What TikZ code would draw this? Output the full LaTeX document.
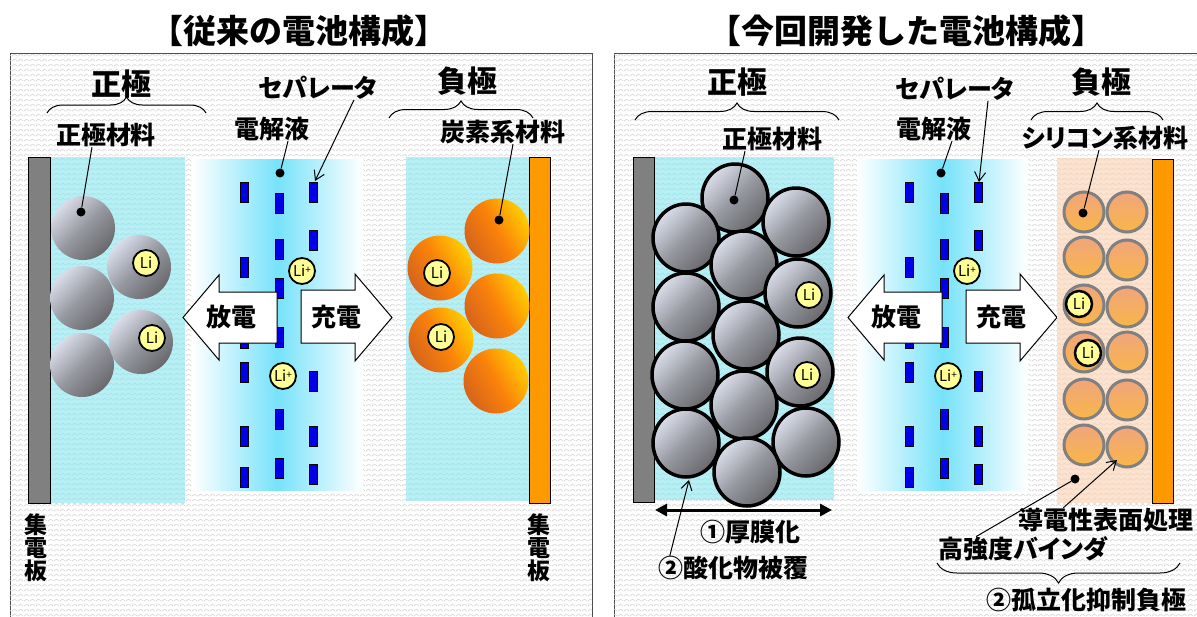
\documentclass[tikz,border=0pt]{standalone}
\usepackage{fontspec}
\setmainfont{Noto Sans CJK JP}[RawFeature=+palt]
\newfontfamily\jpwide{Noto Sans CJK JP}
\usetikzlibrary{calc,arrows.meta,patterns.meta,decorations.pathreplacing}

\definecolor{panelzz}{RGB}{208,208,208}
\definecolor{poscyan}{RGB}{184,239,244}
\definecolor{poszz}{RGB}{158,224,233}
\definecolor{elyte}{RGB}{118,226,250}
\definecolor{ionblue}{RGB}{0,0,230}
\definecolor{lifill}{RGB}{255,255,150}
\definecolor{cuorange}{RGB}{255,153,0}
\definecolor{peach}{RGB}{251,227,207}
\definecolor{peachzz}{RGB}{240,210,188}
\definecolor{gtop}{RGB}{218,222,234}
\definecolor{gmid}{RGB}{150,152,160}
\definecolor{gbot}{RGB}{105,105,108}
\definecolor{odark}{RGB}{214,100,28}
\definecolor{omid}{RGB}{250,130,10}
\definecolor{olite}{RGB}{255,205,0}
\definecolor{sitop}{RGB}{240,165,125}
\definecolor{sibot}{RGB}{249,182,72}

\tikzdeclarepattern{
  name=zigzag,
  bottom left={(0pt,0pt)},
  top right={(6pt,5pt)},
  tile size={(6pt,5pt)},
  code={\draw[line width=0.6pt] (0pt,1pt) -- (3pt,3.5pt) -- (6pt,1pt);}
}

\tikzset{
  hd/.style={font=\jpwide\fontsize{33}{33}\selectfont\bfseries, inner sep=0pt},
  pole/.style={font=\fontsize{30}{30}\selectfont\bfseries, inner sep=0pt},
  lbl/.style={font=\fontsize{25}{25}\selectfont\bfseries, inner sep=0pt},
  vlbl/.style={font=\fontsize{23}{23}\selectfont\bfseries, inner sep=0pt, align=center},
  zz/.style={postaction={pattern=zigzag, pattern color=#1}},
  lead/.style={line width=1pt},
  barb/.style={line width=1pt, -{Straight Barb[length=9pt,width=11pt]}},
  brc/.style={decorate, decoration={brace, amplitude=#1}, line width=1pt},
  dot/.style={circle, fill=black, inner sep=0pt, minimum size=9pt},
  ion/.style={circle, draw, line width=1.8pt, fill=lifill, inner sep=0pt, minimum size=26pt, font=\fontsize{15}{15}\selectfont},
  sepbar/.style={draw=black, fill=ionblue, line width=0.8pt},
  gball/.style={top color=gtop, bottom color=gbot, middle color=gmid, shading angle=45},
  oball/.style={left color=odark, right color=olite, middle color=omid, shading angle=120},
  siball/.style={top color=sitop, bottom color=sibot, draw=gray, line width=3pt},
  blockarrow/.style={draw=black, fill=white, line width=1pt, line join=miter}
}

\begin{document}
\begin{tikzpicture}[x=1pt,y=-1pt]
\useasboundingbox (0,0) rectangle (1197,616);

% the two panels
\filldraw[fill=white, draw=gray!60!black, line width=1pt, zz=panelzz] (10,53) rectangle (592,630);
\filldraw[fill=white, draw=gray!60!black, line width=1pt, zz=panelzz] (614,53) rectangle (1210,630);
\node[hd] (ttl1) at (299,31) {【従来の電池構成】};
\node[hd] (ttl2) at (906,31) {【今回開発した電池構成】};

% conventional cell, positive side
\filldraw[fill=poscyan, draw=none, zz=poszz] (50,157) rectangle (185,503);
\filldraw[fill=gray, draw=black, line width=0.8pt] (28,157) rectangle (50,503);
\foreach \p in {(83,228),(82,298),(82,365),(139,267),(141,342)}
  \shade[gball] \p circle (32);
\node[ion] (lli1) at (146,263) {Li};
\node[ion] (lli2) at (152,338) {Li};

% electrolyte + separator, same in both cells
\foreach \dx in {0,665}{
\begin{scope}[xshift=\dx pt]
  \shade[left color=white, right color=white, middle color=elyte] (192,159) rectangle (363,490);
  \foreach \c/\ys in {244/{192,267,338,372,436,477},279/{203,249,288,337,419,468},313/{192,240,381,436,474}}
    \foreach \y in \ys
      \filldraw[sepbar] (\c-4,\y-10) rectangle (\c+4,\y+10);
  \node[ion] (lipa\dx) at (302,271) {Li\raisebox{3pt}{\fontsize{10}{10}\selectfont+}};
  \node[ion] (lipb\dx) at (283,376) {Li\raisebox{3pt}{\fontsize{10}{10}\selectfont+}};
  \filldraw[blockarrow] (277,292) -- (219,292) -- (219,275) -- (183,317.5) -- (219,360) -- (219,343) -- (277,343) -- cycle;
  \node[lbl] (dis\dx) at (231,317) {放電};
  \filldraw[blockarrow] (301,290) -- (355,290) -- (355,274) -- (392,317.5) -- (355,361) -- (355,343) -- (301,343) -- cycle;
  \node[lbl] (chg\dx) at (336,317) {充電};
\end{scope}}

% conventional cell, negative side
\filldraw[fill=poscyan, draw=none, zz=poszz] (406,157) rectangle (529,501);
\filldraw[fill=cuorange, draw=black, line width=0.8pt] (529,157) rectangle (550,503);
\foreach \p in {(497,231),(497,306),(496,381),(440,268),(441,340)}
  \shade[oball] \p circle (32.5);
\node[ion] (lli3) at (437,273) {Li};
\node[ion] (lli4) at (441,337) {Li};

% conventional cell, labels
\node[pole] (lpos) at (121,84) {正極};
\draw[brc=16pt] (47,113) -- (206,113);
\node[lbl] (lposm) at (106,135) {正極材料};
\node[dot] (lposd) at (81,212) {};
\draw[lead] ($(lposm.south)+(-14,0)$) -- (lposd);
\node[lbl] (lsep) at (318,88) {セパレータ};
\coordinate (lsept) at (315,181);
\draw[barb] ($(lsep.south)+(36,0)$) -- (lsept);
\node[lbl] (lel) at (272,129) {電解液};
\node[dot] (leld) at (280,173) {};
\draw[lead] ($(lel.south)+(16,0)$) -- (leld);
\node[pole] (lneg) at (467,81) {負極};
\draw[brc=17pt] (389,118) -- (533,118);
\node[lbl] (lnegm) at (503,132) {炭素系材料};
\node[dot] (lnegd) at (499,220) {};
\draw[lead] ($(lnegm.south)+(10,0)$) -- (lnegd);
\node[vlbl] (lcc1) at (36,548) {集\\電\\板};
\node[vlbl] (lcc2) at (539,548) {集\\電\\板};

% new cell, thick positive side
\filldraw[fill=poscyan, draw=none, zz=poszz] (654,157) rectangle (834,500);
\filldraw[fill=gray, draw=black, line width=0.8pt] (633,157) rectangle (654,502);
\foreach \p in {(735,198),(796,222),(686,238),(744,265),(798,293),(686,307),(746,335),(685,375),(800,372),(744,405),(686,443),(806,442),(747,472)}
  \shadedraw[gball, draw=black, line width=3.5pt] \p ellipse [x radius=33, y radius=34];
\node[ion] (rli1) at (809,295) {Li};
\node[ion] (rli2) at (807,375) {Li};

% new cell, negative side
\filldraw[fill=peach, draw=none, zz=peachzz] (1057,158) rectangle (1152,503);
\filldraw[fill=cuorange, draw=black, line width=0.8pt] (1152,159) rectangle (1173,503);
\foreach \x/\y in {1084/212,1084/257,1084/305,1084/352,1084/399,1084/445,1127/212,1127/260,1127/307,1127/352,1127/400,1127/447}
  \shadedraw[siball] (\x,\y) circle (20);
\node[ion, line width=2.5pt] (rli3) at (1079,304) {Li};
\node[ion, line width=2.5pt] (rli4) at (1088,353) {Li};

% new cell, labels
\node[pole] (rpos) at (737,82) {正極};
\draw[brc=17pt] (635,120) -- (839,120);
\node[lbl] (rposm) at (772,139) {正極材料};
\node[dot] (rposd) at (734,200) {};
\draw[lead] ($(rposm.south)+(-27,0)$) -- (rposd);
\node[lbl] (rsep) at (955,89) {セパレータ};
\coordinate (rsept) at (979,182);
\draw[barb] ($(rsep.south)+(33,0)$) -- (rsept);
\node[lbl] (rel) at (934,129) {電解液};
\node[dot] (reld) at (941,173) {};
\draw[lead] ($(rel.south)+(18,0)$) -- (reld);
\node[pole] (rneg) at (1101,82) {負極};
\draw[brc=17pt] (1031,120) -- (1163,120);
\node[lbl] (rnegm) at (1105,138) {シリコン系材料};
\node[dot] (rnegd) at (1083,213) {};
\draw[lead] ($(rnegm.south)+(-6,0)$) -- (rnegd);

\coordinate (thl) at (655,510);
\coordinate (thr) at (832,510);
\draw[line width=3pt, {Triangle[length=12pt,width=12pt]}-{Triangle[length=12pt,width=12pt]}] (thl) -- (thr);
\node[lbl] (thick) at (750,532) {①厚膜化};
\node[lbl] (coat) at (733,568) {②酸化物被覆};
\coordinate (coatt) at (689,480);
\draw[barb] ($(coat.north west)+(12,0)$) -- (coatt);

\node[dot] (bindd) at (1075,479) {};
\node[lbl] (surf) at (1106,520) {導電性表面処理};
\node[lbl] (bind) at (1023,549) {高強度バインダ};
\draw[lead] ($(bind.north west)+(38,0)$) -- (bindd);
\coordinate (surft) at (1117,460);
\draw[barb] ($(surf.north west)+(45,0)$) -- (surft);
\draw[brc=20pt] (1180,563) -- (937,563);
\node[lbl] (iso) at (1086,600) {②孤立化抑制負極};
\end{tikzpicture}
\end{document}
